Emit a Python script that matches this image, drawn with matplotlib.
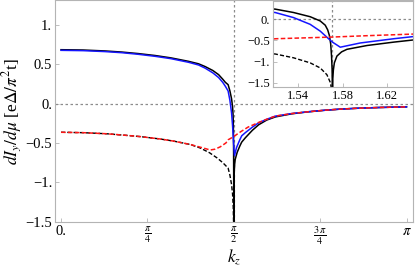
"""
Graph dI_y/dmu versus k_z with a zoomed inset around k_z = pi/2
"""

import numpy as np
import matplotlib.pyplot as plt


# Black solid curve (left and right of pi/2)
k_black = [0.0, 0.2, 0.4, 0.553, 0.7, 0.856, 1.0, 1.16, 1.25, 1.31, 1.38, 1.433, 1.47,
           1.494, 1.5193, 1.5358, 1.5508, 1.5598, 1.5643, 1.5665, 1.568, 1.5692, 1.570,
           1.5705, 1.5708, 1.5711, 1.5716, 1.5725, 1.5748, 1.579, 1.5838, 1.6018, 1.6258,
           1.643, 1.676, 1.74, 1.797, 1.87, 1.949, 2.1, 2.25, 2.404, 2.55, 2.708, 2.9, 3.1416]
v_black = [0.684, 0.68, 0.668, 0.654, 0.635, 0.61, 0.58, 0.536, 0.505, 0.47, 0.42, 0.367, 0.31,
           0.27, 0.24, 0.16, 0.06, -0.04, -0.14, -0.25, -0.38, -0.58, -0.88,
           -1.2, -1.8, -1.4, -1.2, -1.03, -0.87, -0.77, -0.71, -0.62, -0.54,
           -0.49, -0.435, -0.34, -0.27, -0.21, -0.17, -0.13, -0.105, -0.085, -0.07, -0.059,
           -0.05, -0.042]

# Blue solid curve
k_blue = [0.0, 0.2, 0.4, 0.553, 0.7, 0.856, 1.0, 1.16, 1.25, 1.31, 1.38, 1.433, 1.47,
          1.494, 1.5193, 1.5358, 1.5508, 1.5598, 1.5673, 1.5708, 1.5778, 1.5958, 1.6258,
          1.643, 1.676, 1.74, 1.797, 1.87, 1.949, 2.1, 2.25, 2.404, 2.55, 2.708, 2.9, 3.1416]
v_blue = [0.676, 0.672, 0.66, 0.646, 0.626, 0.6, 0.57, 0.524, 0.49, 0.45, 0.39, 0.33, 0.27,
          0.22, 0.16, 0.04, -0.12, -0.28, -0.46, -0.54, -0.66, -0.56, -0.46,
          -0.41, -0.37, -0.3, -0.245, -0.2, -0.16, -0.127, -0.104, -0.084, -0.07, -0.059, -0.05, -0.042]

# Red dashed curve
k_red = [0.0, 0.2, 0.416, 0.6, 0.72, 0.9, 1.023, 1.175, 1.28, 1.357, 1.4, 1.448, 1.5, 1.52,
         1.5708, 1.6, 1.643, 1.7, 1.797, 1.87, 1.949, 2.1, 2.25, 2.404, 2.55, 2.708, 2.9, 3.1416]
v_red = [-0.365, -0.37, -0.384, -0.405, -0.42, -0.45, -0.477, -0.52, -0.56, -0.59, -0.58, -0.55,
         -0.5, -0.46, -0.42, -0.39, -0.35, -0.3, -0.24, -0.2, -0.16, -0.127, -0.104, -0.084,
         -0.07, -0.059, -0.05, -0.042]

# Black dashed curve (left of pi/2 only)
k_bdash = [0.0, 0.2, 0.416, 0.6, 0.72, 0.9, 1.023, 1.175, 1.266, 1.35, 1.418, 1.47, 1.5193,
           1.5358, 1.5508, 1.5598, 1.5658, 1.569, 1.5708]
v_bdash = [-0.365, -0.37, -0.384, -0.405, -0.42, -0.45, -0.477, -0.52, -0.565, -0.625, -0.69,
           -0.75, -0.82, -0.91, -1.03, -1.15, -1.31, -1.5, -1.8]

# Tick labels
main_xticks = [0, np.pi / 4, np.pi / 2, 3 * np.pi / 4, np.pi]
main_xlabels = ['0.', r'$\frac{\pi}{4}$', r'$\frac{\pi}{2}$', r'$\frac{3\,\pi}{4}$', r'$\pi$']
main_yticks = [1.0, 0.5, 0.0, -0.5, -1.0, -1.5]
main_ylabels = ['1.', '0.5', '0.', '\u22120.5', '\u22121.', '\u22121.5']
inset_xticks = [1.54, 1.58, 1.62]
inset_xlabels = ['1.54', '1.58', '1.62']
inset_yticks = [0.0, -0.5, -1.0, -1.5]
inset_ylabels = ['0.', '\u22120.5', '\u22121.', '\u22121.5']


def style_axes(ax, fs):
    """Mathematica-like frame: light gray box, inward ticks"""
    for sp in ax.spines.values():
        sp.set_color('#b4b4b4')
        sp.set_linewidth(0.8)
    ax.tick_params(direction='in', length=3, width=0.6, color='#b4b4b4',
                   labelsize=fs, pad=2)


def draw_curves(ax):
    """Reference lines and the four curves"""
    grid = dict(color='#8c8c8c', lw=0.9, ls=(0, (2, 2)))
    ax.axhline(0, **grid)
    ax.axvline(np.pi / 2, **grid)
    ax.plot(k_bdash, v_bdash, c='black', lw=1.0, ls=(0, (3, 1.5)))
    ax.plot(k_black, v_black, c='black', lw=1.1)
    ax.plot(k_blue, v_blue, c='#1515ff', lw=1.1)
    ax.plot(k_red, v_red, c='#ff1515', lw=1.1, ls=(0, (3, 1.5)))


def plot_data():
    plt.rcParams['font.family'] = ['Liberation Serif', 'DejaVu Serif']
    plt.rcParams['mathtext.fontset'] = 'stix'

    fig = plt.figure(figsize=(4.15, 2.66), dpi=100)
    ax = fig.add_axes([0.1325, 0.1654, 0.8625, 0.833])
    draw_curves(ax)
    style_axes(ax, 10.5)
    ax.set_xlim(-0.055, 3.2)
    ax.set_ylim(-1.505, 1.31)
    ax.set_xticks(main_xticks)
    ax.set_xticklabels(main_xlabels)
    ax.set_yticks(main_yticks)
    ax.set_yticklabels(main_ylabels)
    ax.set_xlabel(r'$k_z$', fontsize=12.5, labelpad=0)
    ax.set_ylabel(r'$dI_y/d\mu$ [e$\Delta/\pi^2$t]', fontsize=12.5, labelpad=1)

    # Inset zoom around pi/2
    ins = fig.add_axes([0.658, 0.673, 0.337, 0.323])
    ins.set_facecolor('white')
    draw_curves(ins)
    style_axes(ins, 9)
    ins.set_xlim(1.5175, 1.643)
    ins.set_ylim(-1.6, 0.43)
    ins.set_xticks(inset_xticks)
    ins.set_xticklabels(inset_xlabels)
    ins.set_yticks(inset_yticks)
    ins.set_yticklabels(inset_ylabels)

    fig.savefig('out.png', dpi=100)


if __name__ == "__main__":
    plot_data()
